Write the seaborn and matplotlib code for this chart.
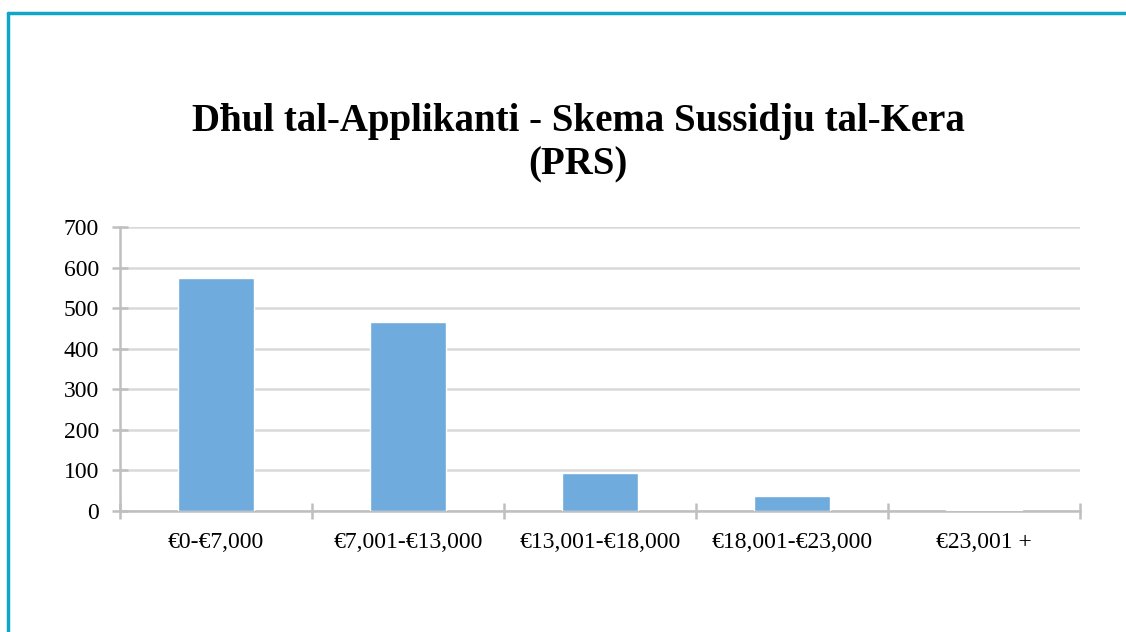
import matplotlib
matplotlib.use("Agg")
import matplotlib.pyplot as plt
from matplotlib.lines import Line2D
import seaborn as sns
import pandas as pd
import numpy as np

categories = ["€0-€7,000", "€7,001-€13,000", "€13,001-€18,000", "€18,001-€23,000", "€23,001 +"]
values = [575, 465, 93, 38, 2]
yticks = [0, 100, 200, 300, 400, 500, 600, 700]
title = "Dħul tal-Applikanti - Skema Sussidju tal-Kera\n(PRS)"

sns.set_style("white")
plt.rcParams['font.family'] = ['Liberation Serif', 'DejaVu Serif']
plt.rcParams['text.color'] = 'black'
plt.rcParams['xtick.color'] = 'black'
plt.rcParams['ytick.color'] = 'black'

df = pd.DataFrame({"cat": categories, "val": values})

fig = plt.figure(figsize=(11.26, 6.32), dpi=100)
ax = fig.add_axes([120/1126, 1-511/632, 960/1126, (511-227)/632])

sns.barplot(data=df, x="cat", y="val", color="#6FABDC", saturation=1, width=0.4, ax=ax, zorder=3)

ax.set_xlim(-0.5, len(categories) - 0.5)
ax.set_ylim(0, 700)
ax.set_yticks(yticks)
ax.set_yticklabels([str(t) for t in yticks], fontsize=17)
ax.set_xticks(range(len(categories)))
ax.set_xticklabels(categories, fontsize=17)
ax.set_xticks(np.arange(-0.5, len(categories)), minor=True)
ax.tick_params(axis='x', which='major', bottom=True, length=0, pad=15, labelcolor='black')
ax.tick_params(axis='x', which='minor', bottom=True, length=11, width=1.8, color="#BFBFBF", direction='inout')
ax.tick_params(axis='y', which='major', left=True, length=12, width=1.8, color="#BFBFBF", direction='inout', pad=9, labelcolor='black')
ax.set_xlabel("")
ax.set_ylabel("")
ax.grid(axis='y', color="#D9D9D9", linewidth=1.8, zorder=0)
ax.set_axisbelow(True)
for s in ["top", "right"]:
    ax.spines[s].set_visible(False)
for s in ["left", "bottom"]:
    ax.spines[s].set_color("#BFBFBF")
    ax.spines[s].set_linewidth(1.8)

fig.text(578/1126, 1-143/632, title, ha="center", va="center", fontsize=28,
         fontweight="bold", linespacing=1.25, color="black")

# teal frame lines (top and left)
fig.add_artist(Line2D([8/1126, 1], [1-13/632, 1-13/632], color="#11A5C6", linewidth=2.5, transform=fig.transFigure))
fig.add_artist(Line2D([8/1126, 8/1126], [0, 1-13/632], color="#11A5C6", linewidth=2.5, transform=fig.transFigure))

fig.savefig("out.png", dpi=100, facecolor="white")
